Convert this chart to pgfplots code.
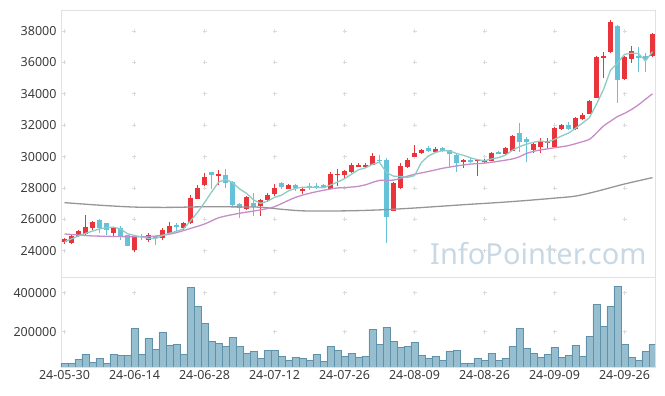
\documentclass[border=0pt]{standalone}
\usepackage{fontspec}
\setmainfont{Noto Sans}
\usepackage{pgfplots}
\usepackage{pgfplotstable}
\pgfplotsset{compat=1.18}
\definecolor{upc}{RGB}{232,52,58}
\definecolor{dnc}{RGB}{102,194,216}
\definecolor{ma5c}{RGB}{140,204,196}
\definecolor{ma20c}{RGB}{200,140,200}
\definecolor{malc}{RGB}{150,150,150}
\definecolor{volf}{RGB}{150,190,207}
\definecolor{vold}{RGB}{95,145,170}
\definecolor{framec}{RGB}{225,225,225}
\definecolor{gridc}{RGB}{218,218,218}
\definecolor{labc}{RGB}{60,60,60}
\definecolor{wmc}{RGB}{200,217,229}

\pgfplotstableread{
i o h l c
0 24534 24789 24406 24746
1 24470 24980 24420 24937
2 24937 25300 24850 25256
3 25065 26275 25020 25490
4 25447 25870 25300 25829
7 25107 25530 24850 25447
10 24045 24900 23939 24852
12 24682 25150 24570 24980
14 24810 25425 24680 25298
15 25107 25830 25020 25575
17 25468 25830 25320 25744
18 25744 27571 25700 27359
19 27316 28166 27270 27996
20 28187 28930 28100 28718
22 28760 29143 28187 28888
26 26679 27486 26590 27401
28 26849 27300 26212 27231
29 27231 27700 27167 27571
30 27592 28251 27486 27996
32 27953 28250 27911 28187
34 27784 28000 27614 27954
38 27954 29016 27930 28889
39 28804 29186 28145 28910
40 28846 29143 28570 29080
41 29016 29610 28970 29462
42 29356 29570 29313 29462
43 29356 29611 29270 29483
44 29483 30205 29440 30057
47 26552 28400 26530 28336
48 27975 29568 27930 29377
49 29313 29887 29250 29781
50 29993 30715 29950 30250
51 30248 30482 30163 30418
53 30291 30630 30248 30482
57 29653 29830 29250 29781
59 29717 29830 28782 29781
60 29653 29845 29610 29781
61 29738 30312 29696 30206
63 30163 30630 30100 30524
64 30376 31375 30376 31310
67 30419 30950 30249 30823
68 30632 31162 30249 30929
69 30887 31162 30525 30950
70 30589 31863 30568 31821
71 31778 32075 31693 32012
73 31757 32542 31693 32458
74 32395 32797 32330 32628
75 32734 33600 32700 33541
76 33754 36400 33700 36324
77 36303 36685 34986 36409
78 36685 38703 36600 38575
80 34943 36400 34900 36366
81 36218 37046 35942 36706
84 36430 37896 36370 37811
}\upt

\pgfplotstableread{
i o h l c
5 25957 26000 25150 25426
6 25744 25780 25000 25320
8 25468 25570 24680 24895
9 24980 25020 24300 24321
11 24937 25065 24680 24874
13 24895 24950 24364 24831
16 25617 25787 25277 25511
21 28994 29000 27911 28824
23 28824 29185 27975 28336
24 28378 28460 26806 26913
25 26955 27020 26063 26743
27 27061 27656 26212 26806
31 28314 28378 27950 28081
33 28187 28250 27805 28017
35 28124 28294 27869 28018
36 28124 28337 27911 28039
37 28188 28230 27970 28018
45 29781 30099 29674 29717
46 29781 29887 24471 26170
52 30567 30673 30312 30376
54 30524 30590 30312 30376
55 30418 30420 29356 30142
56 30100 30163 29037 29611
58 29760 29993 29568 29696
62 30291 30376 30142 30185
65 31480 32117 30270 30949
66 31141 31270 29676 30950
72 32012 32202 31693 31757
79 38342 38400 33435 34880
82 36366 36961 35410 36303
83 36430 36620 35410 36218
}\dnt

\pgfplotstableread{
i v
0 24576
1 24750
2 24937
3 25100
4 25252
5 25388
6 25464
7 25502
8 25383
9 25082
10 24967
11 24878
12 24784
13 24772
14 24967
15 25112
16 25239
17 25392
18 25897
19 26437
20 27066
21 27728
22 28357
23 28552
24 28336
25 27941
26 27656
27 27240
28 27019
29 27150
30 27401
31 27537
32 27813
33 27970
34 28047
35 28051
36 28043
37 28009
38 28184
39 28375
40 28587
41 28872
42 29161
43 29279
44 29509
45 29636
46 28978
47 28753
48 28731
49 28676
50 28783
51 29632
52 30040
53 30261
54 30380
55 30359
56 30197
57 30078
58 29921
59 29802
60 29730
61 29849
62 29930
63 30095
64 30401
65 30635
66 30784
67 30911
68 30992
69 30920
70 31095
71 31307
72 31494
73 31800
74 32135
75 32479
76 33342
77 34272
78 35495
79 35946
80 36511
81 36587
82 36566
83 36095
84 36681
}\mafive

\pgfplotstableread{
i v
0 25065
2 25000
4 24940
8 24900
12 24895
15 25050
16 25150
18 25420
20 25700
22 26100
23 26210
25 26382
28 26600
30 26800
31 27000
33 27400
35 27657
37 27850
39 28000
40 28020
42 28100
43 28200
45 28480
47 28500
49 28750
50 28870
52 29050
54 29250
56 29400
58 29520
60 29580
62 29700
64 29850
65 29990
66 30200
67 30330
68 30420
70 30560
72 30700
74 30950
75 31100
76 31500
77 31950
78 32250
79 32550
80 32750
81 33000
82 33300
83 33650
84 34000
}\matwenty

\pgfplotstableread{
i v
0 27062
5 26900
10 26780
15 26760
20 26800
25 26790
28 26770
31 26640
34 26540
38 26530
42 26555
46 26620
50 26720
54 26840
58 26960
62 27070
66 27200
70 27350
73 27480
76 27780
80 28250
84 28656
}\malong

\pgfplotstableread{
i v
0 37600
1 37600
2 58100
3 83700
4 44400
5 63200
6 37600
7 83700
8 78600
9 78600
10 217000
11 83700
12 165800
13 109400
14 196500
15 129900
16 135000
17 83700
18 427000
19 329800
20 242700
21 150400
22 140100
23 124800
24 170900
25 124800
26 88900
27 99100
28 63200
29 104200
30 104200
31 73500
32 53000
33 68400
34 63200
35 53000
36 83700
37 47900
38 124800
39 104200
40 73500
41 88900
42 68400
43 73500
44 211900
45 135000
46 222200
47 150400
48 119600
49 124800
50 145300
51 78600
52 63200
53 73500
54 53000
55 99100
56 104200
57 37600
58 37600
59 63200
60 53000
61 88900
62 53000
63 63200
64 124800
65 217000
66 114500
67 88900
68 68400
69 83700
70 119600
71 68400
72 78600
73 129900
74 73500
75 176000
76 340100
77 227300
78 331500
79 434100
80 135000
81 68400
82 53000
83 99100
84 135000
}\volt

\pgfplotsset{
  chartbase/.style={
    scale only axis, width=594pt,
    xmin=-0.5, xmax=84.36,
    axis line style={draw=framec, line width=0.8pt},
    major tick length=0pt,
    tick label style={font=\fontsize{12.5}{14}\selectfont, text=labc},
    scaled y ticks=false, scaled x ticks=false,
    xtick={0,10,...,80},
    xmajorgrids, ymajorgrids,
    y grid style={draw=gridc, line width=0.8pt, dash pattern=on 4pt off 66pt, dash phase=68.5pt},
  },
  candle/.style={only marks, mark=*, mark size=0pt, mark options={draw=none, fill=none}, forget plot,
    error bars/.cd, y dir=both, y explicit, error mark=none, error bar style={#1}},
}

\begin{document}
\begin{tikzpicture}
\path[use as bounding box] (0pt,0pt) rectangle (665pt,396pt);

\begin{axis}[chartbase, at={(61pt,119pt)}, anchor=south west, height=267pt,
  ymin=22324, ymax=39340,
  ytick={24000,26000,...,38000},
  yticklabels={24000,26000,28000,30000,32000,34000,36000,38000},
  xticklabels={},
  x grid style={draw=gridc, line width=0.8pt, dash pattern=on 4pt off 27.38pt, dash phase=7.08pt},
  yticklabel style={xshift=-1pt},
]
% wicks
\addplot[candle={line width=1pt, draw=upc}]
  table[x=i, y expr={(\thisrow{h}+\thisrow{l})/2}, y error expr={(\thisrow{h}-\thisrow{l})/2}] {\upt};
\addplot[candle={line width=1pt, draw=dnc}]
  table[x=i, y expr={(\thisrow{h}+\thisrow{l})/2}, y error expr={(\thisrow{h}-\thisrow{l})/2}] {\dnt};
% bodies
\addplot[candle={line width=5.3pt, draw=upc}]
  table[x=i, y expr={(\thisrow{o}+\thisrow{c})/2}, y error expr={max(abs(\thisrow{c}-\thisrow{o})/2,55)}] {\upt};
\addplot[candle={line width=5.3pt, draw=dnc}]
  table[x=i, y expr={(\thisrow{o}+\thisrow{c})/2}, y error expr={max(abs(\thisrow{c}-\thisrow{o})/2,55)}] {\dnt};
% moving averages
\addplot[malc, line width=1.3pt, smooth, mark=none] table[x=i,y=v] {\malong};
\addplot[ma20c, line width=1.3pt, smooth, mark=none] table[x=i,y=v] {\matwenty};
\addplot[ma5c, line width=1.3pt, mark=none] table[x=i,y=v] {\mafive};
\end{axis}

\node[anchor=base west, inner sep=0pt, text=wmc, font=\fontsize{29}{32}\selectfont] at (430pt,131pt) {InfoPointer.com};

\begin{axis}[chartbase, at={(61pt,29pt)}, anchor=south west, height=90pt,
  ymin=19000, ymax=480500,
  ytick={200000,400000},
  yticklabels={200000,400000},
  xticklabels={24-05-30,24-06-14,24-06-28,24-07-12,24-07-26,24-08-09,24-08-26,24-09-09,24-09-26},
  x grid style={draw=gridc, line width=0.8pt, dash pattern=on 4pt off 35pt, dash phase=5.7pt},
  yticklabel style={xshift=-1pt},
]
\addplot[ybar, bar width=1, fill=volf, draw=vold, line width=0.6pt] table[x=i,y=v] {\volt};
\end{axis}
\end{tikzpicture}
\end{document}
